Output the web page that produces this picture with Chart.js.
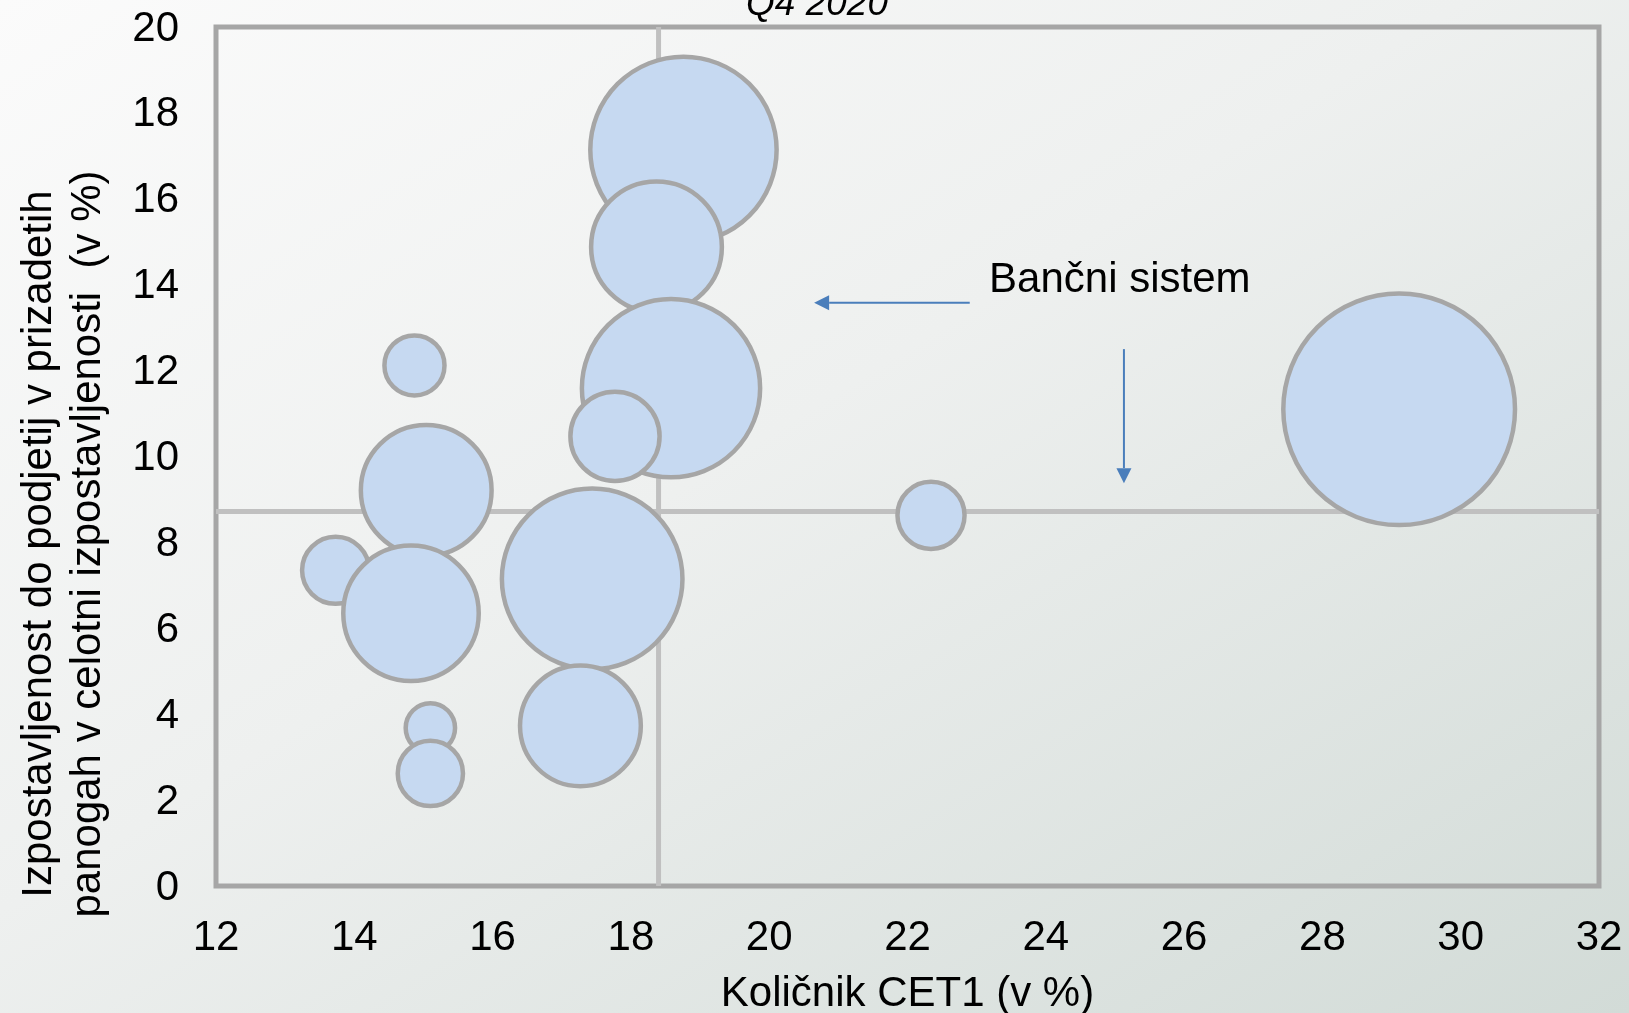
<!DOCTYPE html>
<html>
<head>
<meta charset="utf-8">
<script src="https://cdn.jsdelivr.net/npm/chart.js@4.4.1/dist/chart.umd.min.js"></script>
<style>
  html, body { margin: 0; padding: 0; }
  body {
    width: 1629px; height: 1013px; overflow: hidden;
    background: linear-gradient(to bottom right, #fbfbfb 0%, #eef0ef 45%, #d2dbd7 100%);
  }
  canvas { display: block; }
</style>
</head>
<body>
<canvas id="myChart" width="1629" height="1013"></canvas>
<script>
// CET1 ratio (x), share of exposure to affected sectors (y), bubble size (relative)
const cet1 =     [18.76, 18.37, 18.58, 17.77, 14.87, 15.04, 13.73, 14.82, 17.44, 17.27, 15.10, 15.10, 22.34, 29.11];
const exposure = [17.14, 14.88, 11.59, 10.47, 12.12,  9.21,  7.35,  6.35,  7.15,  3.73,  3.68,  2.62,  8.63, 11.10];
const bankSize = [84,    42,    77,    20,    9.4,   42,    11.6,  45,    79,    36,    6.5,   11,    11.6,  129];

// banking system averages
const systemCet1 = 18.4;
const systemExposure = 8.72;

const xTicks = [12, 14, 16, 18, 20, 22, 24, 26, 28, 30, 32];
const yTicks = [0, 2, 4, 6, 8, 10, 12, 14, 16, 18, 20];

const chartTitle = 'Q4 2020';
const xTitle = 'Količnik CET1 (v %)';
const yTitle = ['Izpostavljenost do podjetij v prizadetih', 'panogah v celotni izpostavljenosti  (v %)'];
const annotationLabel = 'Bančni sistem';

const FONT = '"Liberation Sans", Arial, sans-serif';
const BLUE = '#4a7ebb';

const bubbles = cet1.map((x, i) => ({ x: x, y: exposure[i], r: Math.sqrt(bankSize[i]) * 10.35 - 1.7 }));

function arrow(ctx, x1, y1, x2, y2) {
  const ang = Math.atan2(y2 - y1, x2 - x1);
  const len = 15, half = 7.5;
  ctx.beginPath();
  ctx.moveTo(x1, y1);
  ctx.lineTo(x2 - Math.cos(ang) * len, y2 - Math.sin(ang) * len);
  ctx.stroke();
  ctx.beginPath();
  ctx.moveTo(x2, y2);
  ctx.lineTo(x2 - Math.cos(ang) * len - Math.sin(ang) * half, y2 - Math.sin(ang) * len + Math.cos(ang) * half);
  ctx.lineTo(x2 - Math.cos(ang) * len + Math.sin(ang) * half, y2 - Math.sin(ang) * len - Math.cos(ang) * half);
  ctx.closePath();
  ctx.fill();
}

const framePlugin = {
  id: 'frame',
  beforeDatasetsDraw(chart) {
    const { ctx, chartArea: a } = chart;
    ctx.save();
    ctx.strokeStyle = '#a6a6a6';
    ctx.lineWidth = 5;
    ctx.strokeRect(a.left, a.top, a.right - a.left, a.bottom - a.top);
    ctx.restore();
  }
};

const textPlugin = {
  id: 'texts',
  afterDraw(chart) {
    const { ctx, chartArea: a } = chart;
    const xs = chart.scales.x, ys = chart.scales.y;
    ctx.save();
    ctx.fillStyle = '#000';

    // title (partly cut at the top)
    ctx.font = 'italic 37px ' + FONT;
    ctx.textAlign = 'center';
    ctx.textBaseline = 'alphabetic';
    ctx.fillText(chartTitle, 817, 15);

    // x title
    ctx.font = '42px ' + FONT;
    ctx.fillText(xTitle, (a.left + a.right) / 2, 1006);

    // y title
    ctx.save();
    ctx.translate(0, 544);
    ctx.rotate(-Math.PI / 2);
    ctx.fillText(yTitle[0], 0, 51);
    ctx.fillText(yTitle[1], 0, 100);
    ctx.restore();

    // banking system annotation
    ctx.textAlign = 'left';
    ctx.textBaseline = 'middle';
    ctx.fillText(annotationLabel, xs.getPixelForValue(23.18), ys.getPixelForValue(14.1));

    ctx.strokeStyle = BLUE;
    ctx.fillStyle = BLUE;
    ctx.lineWidth = 2;
    arrow(ctx, xs.getPixelForValue(22.9), ys.getPixelForValue(13.58), xs.getPixelForValue(20.65), ys.getPixelForValue(13.58));
    arrow(ctx, xs.getPixelForValue(25.13), ys.getPixelForValue(12.5), xs.getPixelForValue(25.13), ys.getPixelForValue(9.38));
    ctx.restore();
  }
};

const ctx = document.getElementById('myChart');

new Chart(ctx, {
  type: 'bubble',
  data: {
    datasets: [
      {
        label: 'Banke',
        data: bubbles,
        backgroundColor: '#c6d9f1',
        borderColor: '#a6a6a6',
        borderWidth: 4.5,
        order: 0
      },
      {
        type: 'line',
        label: 'CET1 bančni sistem',
        data: [{ x: systemCet1, y: 0 }, { x: systemCet1, y: 20 }],
        borderColor: '#c0c0c0',
        borderWidth: 5,
        pointRadius: 0,
        order: 1
      },
      {
        type: 'line',
        label: 'Izpostavljenost bančni sistem',
        data: [{ x: 12, y: systemExposure }, { x: 32, y: systemExposure }],
        borderColor: '#c0c0c0',
        borderWidth: 5,
        pointRadius: 0,
        order: 1
      }
    ]
  },
  options: {
    responsive: false,
    animation: false,
    layout: { autoPadding: false, padding: { left: 0, right: 30, top: 27, bottom: 0 } },
    plugins: {
      legend: { display: false },
      tooltip: { enabled: false }
    },
    scales: {
      x: {
        type: 'linear',
        min: 12,
        max: 32,
        afterBuildTicks: (s) => { s.ticks = xTicks.map(v => ({ value: v })); },
        afterFit: (s) => { s.height = 127; s.paddingLeft = 0; s.paddingRight = 0; },
        grid: { display: false, drawTicks: false },
        border: { display: false },
        ticks: { color: '#000', font: { family: FONT, size: 42 }, padding: 27, maxRotation: 0 }
      },
      y: {
        type: 'linear',
        min: 0,
        max: 20,
        afterBuildTicks: (s) => { s.ticks = yTicks.map(v => ({ value: v })); },
        afterFit: (s) => { s.width = 216; s.paddingTop = 0; s.paddingBottom = 0; },
        grid: { display: false, drawTicks: false },
        border: { display: false },
        ticks: { color: '#000', font: { family: FONT, size: 42 }, padding: 37, labelOffset: 2 }
      }
    }
  },
  plugins: [framePlugin, textPlugin]
});
</script>
</body>
</html>
